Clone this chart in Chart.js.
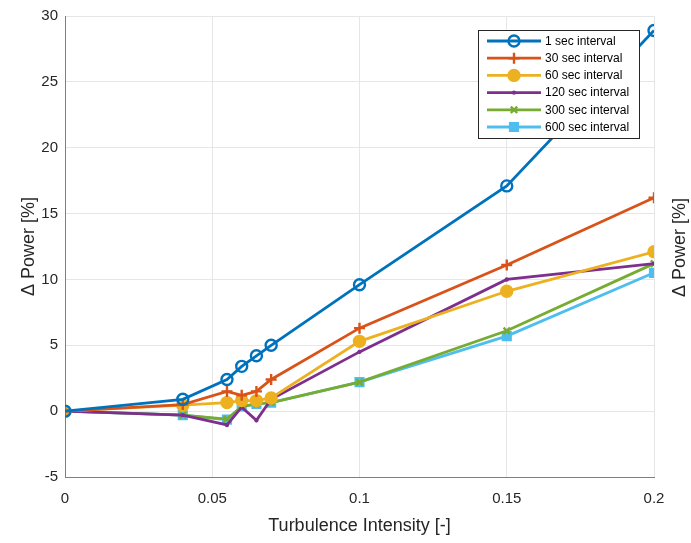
<!DOCTYPE html>
<html>
<head>
<meta charset="utf-8">
<script src="https://cdn.jsdelivr.net/npm/chart.js@4/dist/chart.umd.min.js"></script>
<style>
  html, body { margin: 0; padding: 0; background: #fff; }
  #wrap { width: 691px; height: 543px; }
</style>
</head>
<body>
<div id="wrap"><canvas id="chart"></canvas></div>
<script>
// turbulence intensity values (x)
const turbulence = [0, 0.04, 0.055, 0.06, 0.065, 0.07, 0.1, 0.15, 0.2];

// Δ power per averaging interval
const sec1   = [0, 0.9, 2.4, 3.4, 4.2, 5.0, 9.6, 17.1, 28.9];
const sec30  = [0, 0.5, 1.5, 1.2, 1.5, 2.4, 6.3, 11.1, 16.2];
const sec60  = [0, 0.45, 0.65, 0.8, 0.8, 1.0, 5.3, 9.1, 12.1];
const sec120 = [0, -0.3, -1.05, 0.3, -0.7, 0.9, 4.5, 10.0, 11.2];
const sec300 = [0, -0.3, -0.6, 0.35, 0.55, 0.65, 2.2, 6.1, 11.2];
const sec600 = [0, -0.3, -0.65, 0.35, 0.55, 0.65, 2.2, 5.7, 10.5];

const seriesNames = ['1 sec interval', '30 sec interval', '60 sec interval',
                     '120 sec interval', '300 sec interval', '600 sec interval'];

const xTicks = [0, 0.05, 0.1, 0.15, 0.2];
const yTicks = [-5, 0, 5, 10, 15, 20, 25, 30];

const FONT = '"Liberation Sans", Arial, Helvetica, sans-serif';

function toPoints(vals) {
    return vals.map((v, i) => ({ x: turbulence[i], y: v }));
}

function makeSet(label, vals, color, style, radius, filled) {
    return {
        label: label,
        data: toPoints(vals),
        borderColor: color,
        backgroundColor: filled ? color : '#ffffff',
        borderWidth: 2.8,
        pointStyle: style,
        pointRadius: radius,
        pointBorderWidth: 2.4,
        pointBorderColor: color,
        pointBackgroundColor: filled ? color : 'rgba(255,255,255,0)',
        tension: 0,
        fill: false
    };
}

// 图例 - 线加标记，放在右上角
const legendPlugin = {
    id: 'matlabLegend',
    afterDatasetsDraw(chart) {
        const ctx = chart.ctx;
        const area = chart.chartArea;
        const boxL = area.right - 176, boxT = area.top + 14;
        const boxW = 161, boxH = 108;
        ctx.save();
        ctx.fillStyle = '#ffffff';
        ctx.fillRect(boxL, boxT, boxW, boxH);
        ctx.strokeStyle = '#262626';
        ctx.lineWidth = 1;
        ctx.strokeRect(boxL + 0.5, boxT + 0.5, boxW, boxH);
        ctx.font = '12px ' + FONT;
        ctx.textBaseline = 'middle';
        chart.data.datasets.forEach((ds, i) => {
            const y = boxT + 11 + i * 17.2;
            ctx.strokeStyle = ds.borderColor;
            ctx.lineWidth = ds.borderWidth;
            ctx.beginPath();
            ctx.moveTo(boxL + 9, y);
            ctx.lineTo(boxL + 63, y);
            ctx.stroke();
            ctx.fillStyle = ds.pointBackgroundColor;
            ctx.strokeStyle = ds.pointBorderColor;
            ctx.lineWidth = ds.pointBorderWidth;
            Chart.helpers.drawPoint(ctx, {
                pointStyle: ds.pointStyle,
                radius: ds.pointRadius,
                borderWidth: ds.pointBorderWidth
            }, boxL + 36, y);
            ctx.fillStyle = '#000000';
            ctx.textAlign = 'left';
            ctx.fillText(ds.label, boxL + 67, y + 0.5);
        });
        ctx.restore();
    }
};

// 右侧轴标题（自下而上）
const rightTitlePlugin = {
    id: 'rightTitle',
    afterDraw(chart) {
        const ctx = chart.ctx;
        const area = chart.chartArea;
        ctx.save();
        ctx.translate(area.right + 26, (area.top + area.bottom) / 2 + 1);
        ctx.rotate(-Math.PI / 2);
        ctx.font = '18px ' + FONT;
        ctx.fillStyle = '#262626';
        ctx.textAlign = 'center';
        ctx.textBaseline = 'middle';
        ctx.fillText('\u0394 Power [%]', 0, 0);
        ctx.restore();
    }
};

const colors = ['#0072BD', '#D95319', '#EDB120', '#7E2F8E', '#77AC30', '#4DBEEE'];

new Chart(document.getElementById('chart'), {
    type: 'line',
    data: {
        datasets: [
            makeSet(seriesNames[0], sec1,   colors[0], 'circle',   5.5, false),
            makeSet(seriesNames[1], sec30,  colors[1], 'cross',    5.5, false),
            makeSet(seriesNames[2], sec60,  colors[2], 'circle',   5.5, true),
            makeSet(seriesNames[3], sec120, colors[3], 'circle',   1.0, true),
            makeSet(seriesNames[4], sec300, colors[4], 'crossRot', 4.5, false),
            makeSet(seriesNames[5], sec600, colors[5], 'rect',     5.5, true)
        ]
    },
    options: {
        responsive: true,
        maintainAspectRatio: false,
        animation: false,
        layout: { padding: { top: 15, left: 18, right: 0, bottom: 6 } },
        plugins: {
            legend: { display: false },
            tooltip: { enabled: false }
        },
        scales: {
            x: {
                type: 'linear',
                min: 0,
                max: 0.2,
                afterBuildTicks(axis) { axis.ticks = xTicks.map(v => ({ value: v })); },
                afterFit(axis) { axis.height = 60; },
                grid: { color: '#e6e6e6', lineWidth: 1, drawTicks: false },
                border: { color: '#7f7f7f', width: 1 },
                ticks: {
                    padding: 13,
                    color: '#262626',
                    font: { family: FONT, size: 15 },
                    maxRotation: 0,
                    callback: v => String(v)
                },
                title: {
                    display: true,
                    text: 'Turbulence Intensity [-]',
                    color: '#262626',
                    font: { family: FONT, size: 18 },
                    padding: { top: 2, bottom: 0 }
                }
            },
            y: {
                type: 'linear',
                min: -5,
                max: 30,
                afterBuildTicks(axis) { axis.ticks = yTicks.map(v => ({ value: v })); },
                afterFit(axis) { axis.width = 47; },
                grid: { color: '#e6e6e6', lineWidth: 1, drawTicks: false },
                border: { color: '#7f7f7f', width: 1 },
                ticks: {
                    padding: 7,
                    color: '#262626',
                    font: { family: FONT, size: 15 }
                },
                title: {
                    display: true,
                    text: '\u0394 Power [%]',
                    color: '#262626',
                    font: { family: FONT, size: 18 },
                    padding: { top: 0, bottom: 2 }
                }
            },
            y2: {
                type: 'linear',
                position: 'right',
                min: -5,
                max: 30,
                afterFit(axis) { axis.width = 37; },
                grid: { drawOnChartArea: false, drawTicks: false },
                border: { display: false },
                ticks: { display: false }
            }
        }
    },
    plugins: [legendPlugin, rightTitlePlugin]
});
</script>
</body>
</html>
